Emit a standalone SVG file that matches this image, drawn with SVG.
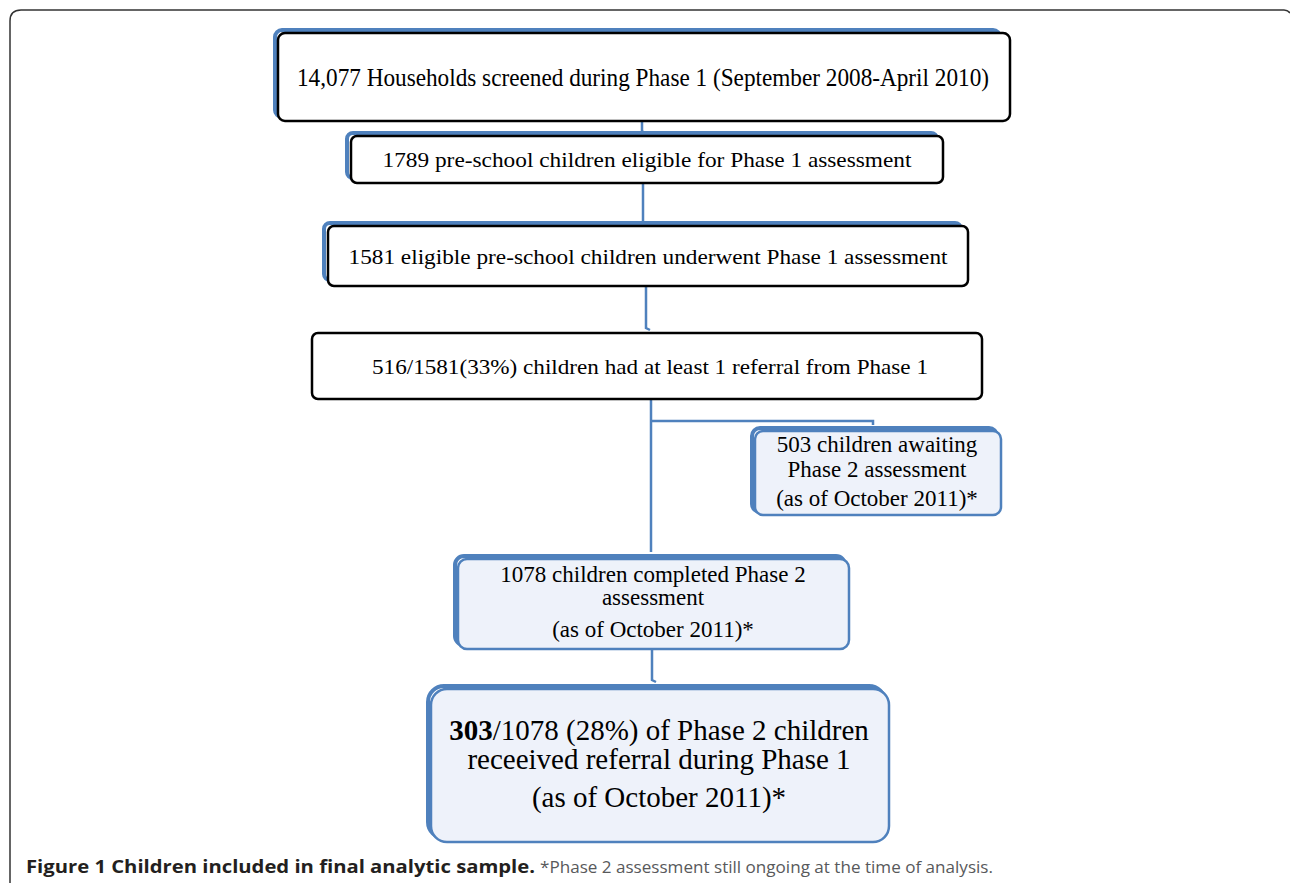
<svg xmlns="http://www.w3.org/2000/svg" width="1290" height="883" viewBox="0 0 1290 883">
<style>
.t{font-family:"Liberation Serif","Times New Roman",serif;fill:#000;text-anchor:middle}
.bw{fill:#fff;stroke:#000;stroke-width:2.5}
.bl{fill:#fff;stroke:#4F81BD;stroke-width:4}
.lb{fill:#EEF2FA;stroke:#4F81BD;stroke-width:2.5}
.lbs{fill:none;stroke:#4F81BD;stroke-width:4}
.c{fill:none;stroke:#4F81BD;stroke-width:2.5}
.cap{font-family:"Open Sans","Liberation Sans",sans-serif;font-size:17px}
</style>
<rect x="0" y="0" width="1290" height="883" fill="#fff"/>
<path d="M10,883 L10,21 Q10,10 21,10 L1284,10 Q1288,10 1290,13" fill="none" stroke="#333" stroke-width="1.5"/>
<g id="connectors">
<path class="c" d="M642,121 L642,131 L644,133"/>
<path class="c" d="M643,183 L643,223"/>
<path class="c" d="M646,286 L646,328 L650,330"/>
<path class="c" d="M651,399 L651,552"/>
<path class="c" d="M651,421 L873,421 L873,425"/>
<path class="c" d="M652,649 L652,680 L656,682"/>
</g>
<g id="n1">
<rect class="bl" x="275" y="30" width="725" height="87" rx="7"/>
<rect class="bw" x="278" y="33" width="732" height="88" rx="7"/>
<text class="t" x="643" y="86" font-size="24.5" textLength="692" lengthAdjust="spacingAndGlyphs">14,077 Households screened during Phase 1 (September 2008-April 2010)</text>
</g>
<g id="n2">
<rect class="bl" x="347" y="133" width="590" height="45" rx="6"/>
<rect class="bw" x="351" y="136" width="592" height="47" rx="6"/>
<text class="t" x="647" y="167" font-size="22" textLength="529" lengthAdjust="spacingAndGlyphs">1789 pre-school children eligible for Phase 1 assessment</text>
</g>
<g id="n3">
<rect class="bl" x="324" y="223" width="637" height="57" rx="6"/>
<rect class="bw" x="328" y="226" width="640" height="60" rx="6"/>
<text class="t" x="648" y="264" font-size="22" textLength="599" lengthAdjust="spacingAndGlyphs">1581 eligible pre-school children underwent Phase 1 assessment</text>
</g>
<g id="n4">
<rect class="bw" x="312" y="333" width="670" height="66" rx="6"/>
<text class="t" x="650" y="374" font-size="22" textLength="556" lengthAdjust="spacingAndGlyphs">516/1581(33%) children had at least 1 referral from Phase 1</text>
</g>
<g id="n5">
<rect class="lbs" x="752" y="428" width="245" height="84" rx="8"/>
<rect class="lb" x="755" y="431" width="246" height="84" rx="8"/>
<text class="t" x="877" y="452" font-size="23">503 children awaiting</text>
<text class="t" x="877" y="477" font-size="23">Phase 2 assessment</text>
<text class="t" x="877" y="506" font-size="23">(as of October 2011)*</text>
</g>
<g id="n6">
<rect class="lbs" x="455" y="556" width="390" height="89" rx="9"/>
<rect class="lb" x="458" y="559" width="391" height="90" rx="9"/>
<text class="t" x="653" y="582" font-size="23">1078 children completed Phase 2</text>
<text class="t" x="653" y="605" font-size="23">assessment</text>
<text class="t" x="653" y="637" font-size="23">(as of October 2011)*</text>
</g>
<g id="n7">
<rect class="lbs" x="428" y="686" width="457" height="152" rx="16"/>
<rect class="lb" x="431" y="689" width="458" height="153" rx="16"/>
<text class="t" x="659" y="740" font-size="29"><tspan font-weight="bold">303</tspan>/1078 (28%) of Phase 2 children</text>
<text class="t" x="659" y="769" font-size="29">receeived referral during Phase 1</text>
<text class="t" x="659" y="807" font-size="29">(as of October 2011)*</text>
</g>
<text class="cap" x="26" y="873" font-weight="bold" fill="#231F20" textLength="509" lengthAdjust="spacingAndGlyphs">Figure 1 Children included in final analytic sample.</text>
<text class="cap" x="540" y="873" fill="#58595B" textLength="453" lengthAdjust="spacingAndGlyphs">*Phase 2 assessment still ongoing at the time of analysis.</text>
</svg>
